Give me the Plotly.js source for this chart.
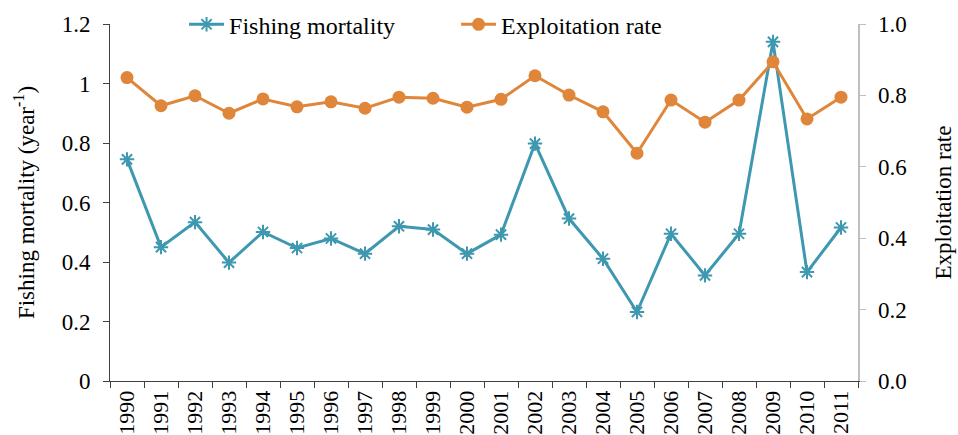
<!DOCTYPE html>
<html>
<head>
<meta charset="utf-8">
<script src="https://cdn.plot.ly/plotly-3.0.1.min.js"></script>
<style>html,body{margin:0;padding:0;background:#fff;}#chart{width:958px;height:435px;}</style>
</head>
<body>
<div id="chart"></div>
<script>
const years = ['1990','1991','1992','1993','1994','1995','1996','1997','1998','1999','2000','2001','2002','2003','2004','2005','2006','2007','2008','2009','2010','2011'];
const fishingMortality = [0.745,0.450,0.534,0.398,0.501,0.447,0.479,0.428,0.520,0.509,0.428,0.492,0.798,0.546,0.411,0.232,0.495,0.355,0.495,1.140,0.366,0.516];
const exploitationRate = [0.850,0.771,0.799,0.750,0.790,0.768,0.782,0.764,0.795,0.792,0.767,0.789,0.855,0.801,0.754,0.638,0.787,0.725,0.787,0.894,0.734,0.795];
const leftTicks = [0,0.2,0.4,0.6,0.8,1,1.2];
const rightTicks = [0,0.2,0.4,0.6,0.8,1.0];

const font = '"Liberation Serif", "Times New Roman", serif';
const blue = '#3d98b0';
const orange = '#df863b';

const traces = [
  {x: years, y: fishingMortality, name: 'Fishing mortality', type: 'scatter', mode: 'lines+markers',
   line: {color: blue, width: 3}, marker: {symbol: 'asterisk-open', size: 12, color: blue, line: {color: blue, width: 2}}, yaxis: 'y'},
  {x: years, y: exploitationRate, name: 'Exploitation rate', type: 'scatter', mode: 'lines+markers',
   line: {color: orange, width: 3}, marker: {symbol: 'circle', size: 13, color: orange}, yaxis: 'y2'}
];

const layout = {
  width: 958, height: 435,
  margin: {l: 110, r: 100, t: 24, b: 54, autoexpand: false},
  paper_bgcolor: '#fff', plot_bgcolor: '#fff',
  font: {family: font, size: 23, color: '#000'},
  showlegend: true,
  legend: {orientation: 'h', x: 0.099, xanchor: 'left', y: 0.998, yanchor: 'middle',
           font: {family: font, size: 24, color: '#000'}, bgcolor: 'rgba(0,0,0,0)',
           entrywidth: 222, entrywidthmode: 'pixels', itemwidth: 35},
  xaxis: {type: 'category', tickson: 'boundaries', ticks: 'outside', ticklen: 6, tickcolor: '#404040',
          showline: true, linecolor: '#404040', linewidth: 1, showgrid: false, zeroline: false,
          tickangle: -90, tickfont: {family: font, size: 22}, range: [-0.5, 21.5]},
  yaxis: {range: [0, 1.2], tickvals: leftTicks, ticktext: leftTicks.map(String), ticks: 'outside', ticklen: 6,
          tickcolor: '#404040', showline: true, linecolor: '#404040', linewidth: 1, showgrid: false, zeroline: false,
          tickfont: {family: font, size: 23}, ticklabelstandoff: 8,
          title: {text: 'Fishing mortality (year<sup>-1</sup>)', font: {family: font, size: 23}, standoff: 20}},
  yaxis2: {range: [0, 1.0], overlaying: 'y', side: 'right', tickvals: rightTicks, tickformat: '.1f',
           ticks: 'outside', ticklen: 6, tickcolor: '#bfbfbf', showline: true, linecolor: '#bfbfbf', linewidth: 1.5,
           showgrid: false, zeroline: false, tickfont: {family: font, size: 23}, ticklabelstandoff: 8,
           title: {text: 'Exploitation rate', font: {family: font, size: 23}, standoff: 28}}
};

Plotly.newPlot('chart', traces, layout, {displayModeBar: false, staticPlot: true});
</script>
</body>
</html>
